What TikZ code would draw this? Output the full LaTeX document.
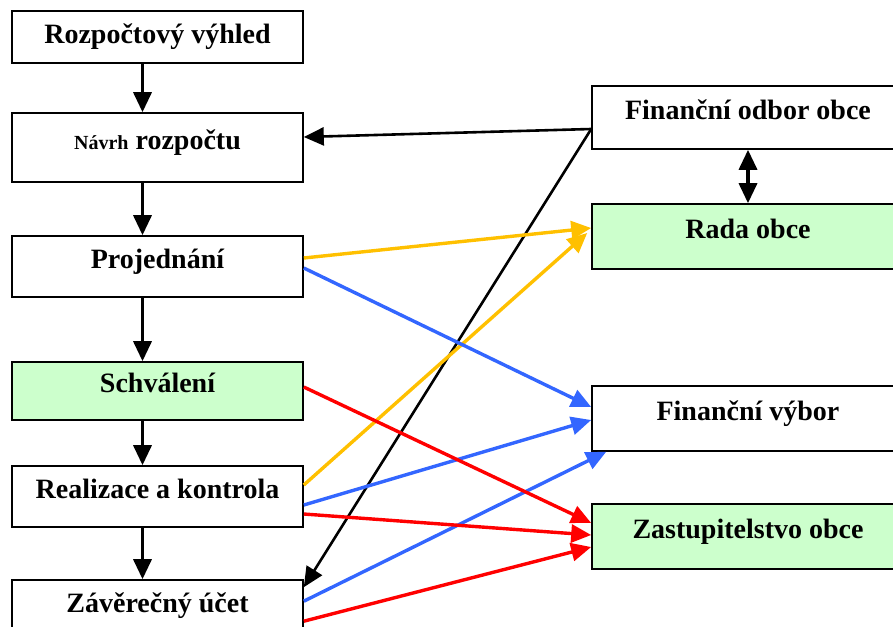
\documentclass[tikz,border=0pt]{standalone}
\usepackage{fontspec}
\setmainfont{Liberation Serif}
\usetikzlibrary{calc,arrows.meta}
\definecolor{boxgreen}{HTML}{CCFFCC}
\definecolor{linkyellow}{HTML}{FFC000}
\definecolor{linkblue}{HTML}{3366FF}
\definecolor{linkred}{HTML}{FF0000}
\tikzset{
	stage/.style={draw=black, line width=1.6pt, minimum width=291pt, minimum height=#1,
		inner sep=0pt, font=\fontsize{28}{32}\selectfont\bfseries, text height=19pt, text depth=16pt},
	organ/.style={stage=#1, minimum width=312pt},
	link/.style={line width=3.4pt, -{Triangle[length=20pt,width=18pt]}},
}

\begin{document}
\begin{tikzpicture}[x=1pt, y=-1pt]
		%%%%% START %%%%%
		\useasboundingbox (0,0) rectangle (893,626);
		\clip (0,0) rectangle (893,626);
		
		% left column
		\node[stage=52pt, text depth=6pt] (rv) at (157.5,37) {Rozpočtový výhled};
		\node[stage=69pt] (nr) at (157.5,147.5) {{\fontsize{20}{24}\selectfont Návrh} rozpočtu};
		\node[stage=61pt] (proj) at (157.5,266.5) {Projednání};
		\node[stage=58pt, fill=boxgreen] (schv) at (157.5,391) {Schválení};
		\node[stage=61pt] (real) at (157.5,496.5) {Realizace a kontrola};
		\node[stage=61pt] (zav) at (157.5,610.5) {Závěrečný účet};
		
		% right column
		\node[organ=63pt] (foo) at (748,117.5) {Finanční odbor obce};
		\node[organ=65pt, fill=boxgreen] (rada) at (748,236.5) {Rada obce};
		\node[organ=65pt] (fv) at (748,418.5) {Finanční výbor};
		\node[organ=65pt, fill=boxgreen] (zast) at (748,536.5) {Zastupitelstvo obce};
		
		% main flow
		\draw[link] ($(rv.south)+(-15,0)$) -- ($(nr.north)+(-15,0)$);
		\draw[link] ($(nr.south)+(-15,0)$) -- ($(proj.north)+(-15,0)$);
		\draw[link] ($(proj.south)+(-15,0)$) -- ($(schv.north)+(-15,0)$);
		\draw[link] ($(schv.south)+(-15,0)$) -- ($(real.north)+(-15,0)$);
		\draw[link] ($(real.south)+(-15,0)$) -- ($(zav.north)+(-15,0)$);
		
		% financni odbor
		\coordinate (fooout) at ($(foo.west)+(0,11.5)$);
		\draw[link, line width=2.6pt] (fooout) -- ($(nr.east)+(0,-10.5)$);
		\draw[link, line width=2.6pt] (fooout) -- ($(zav.north east)+(0,8)$);
		\draw[link, {Triangle[length=20pt,width=18pt]}-{Triangle[length=20pt,width=18pt]}] (foo.south) -- (rada.north);
		
		% rada obce
		\draw[link, linkyellow] ($(proj.east)+(0,-8.5)$) -- ($(rada.west)+(0,-8.5)$);
		\draw[link, linkyellow] ($(real.east)+(0,-11.5)$) -- ($(rada.west)+(-4,-3.5)$);
		
		% financni vybor
		\draw[link, linkblue] ($(proj.east)+(0,1.5)$) -- ($(fv.west)+(0,-11.5)$);
		\draw[link, linkblue] ($(real.east)+(0,8.5)$) -- ($(fv.west)+(0,1.5)$);
		\draw[link, linkblue] ($(zav.north east)+(0,22)$) -- ($(fv.south west)+(15,0)$);
		
		% zastupitelstvo
		\draw[link, linkred] ($(schv.east)+(0,-4)$) -- ($(zast.west)+(0,-13.5)$);
		\draw[link, linkred] ($(real.east)+(0,17.5)$) -- ($(zast.west)+(0,-1.5)$);
		\draw[link, linkred] ($(zav.north east)+(0,42)$) -- ($(zast.west)+(0,10.5)$);
		%%%%% END %%%%%
	\end{tikzpicture}
\end{document}
